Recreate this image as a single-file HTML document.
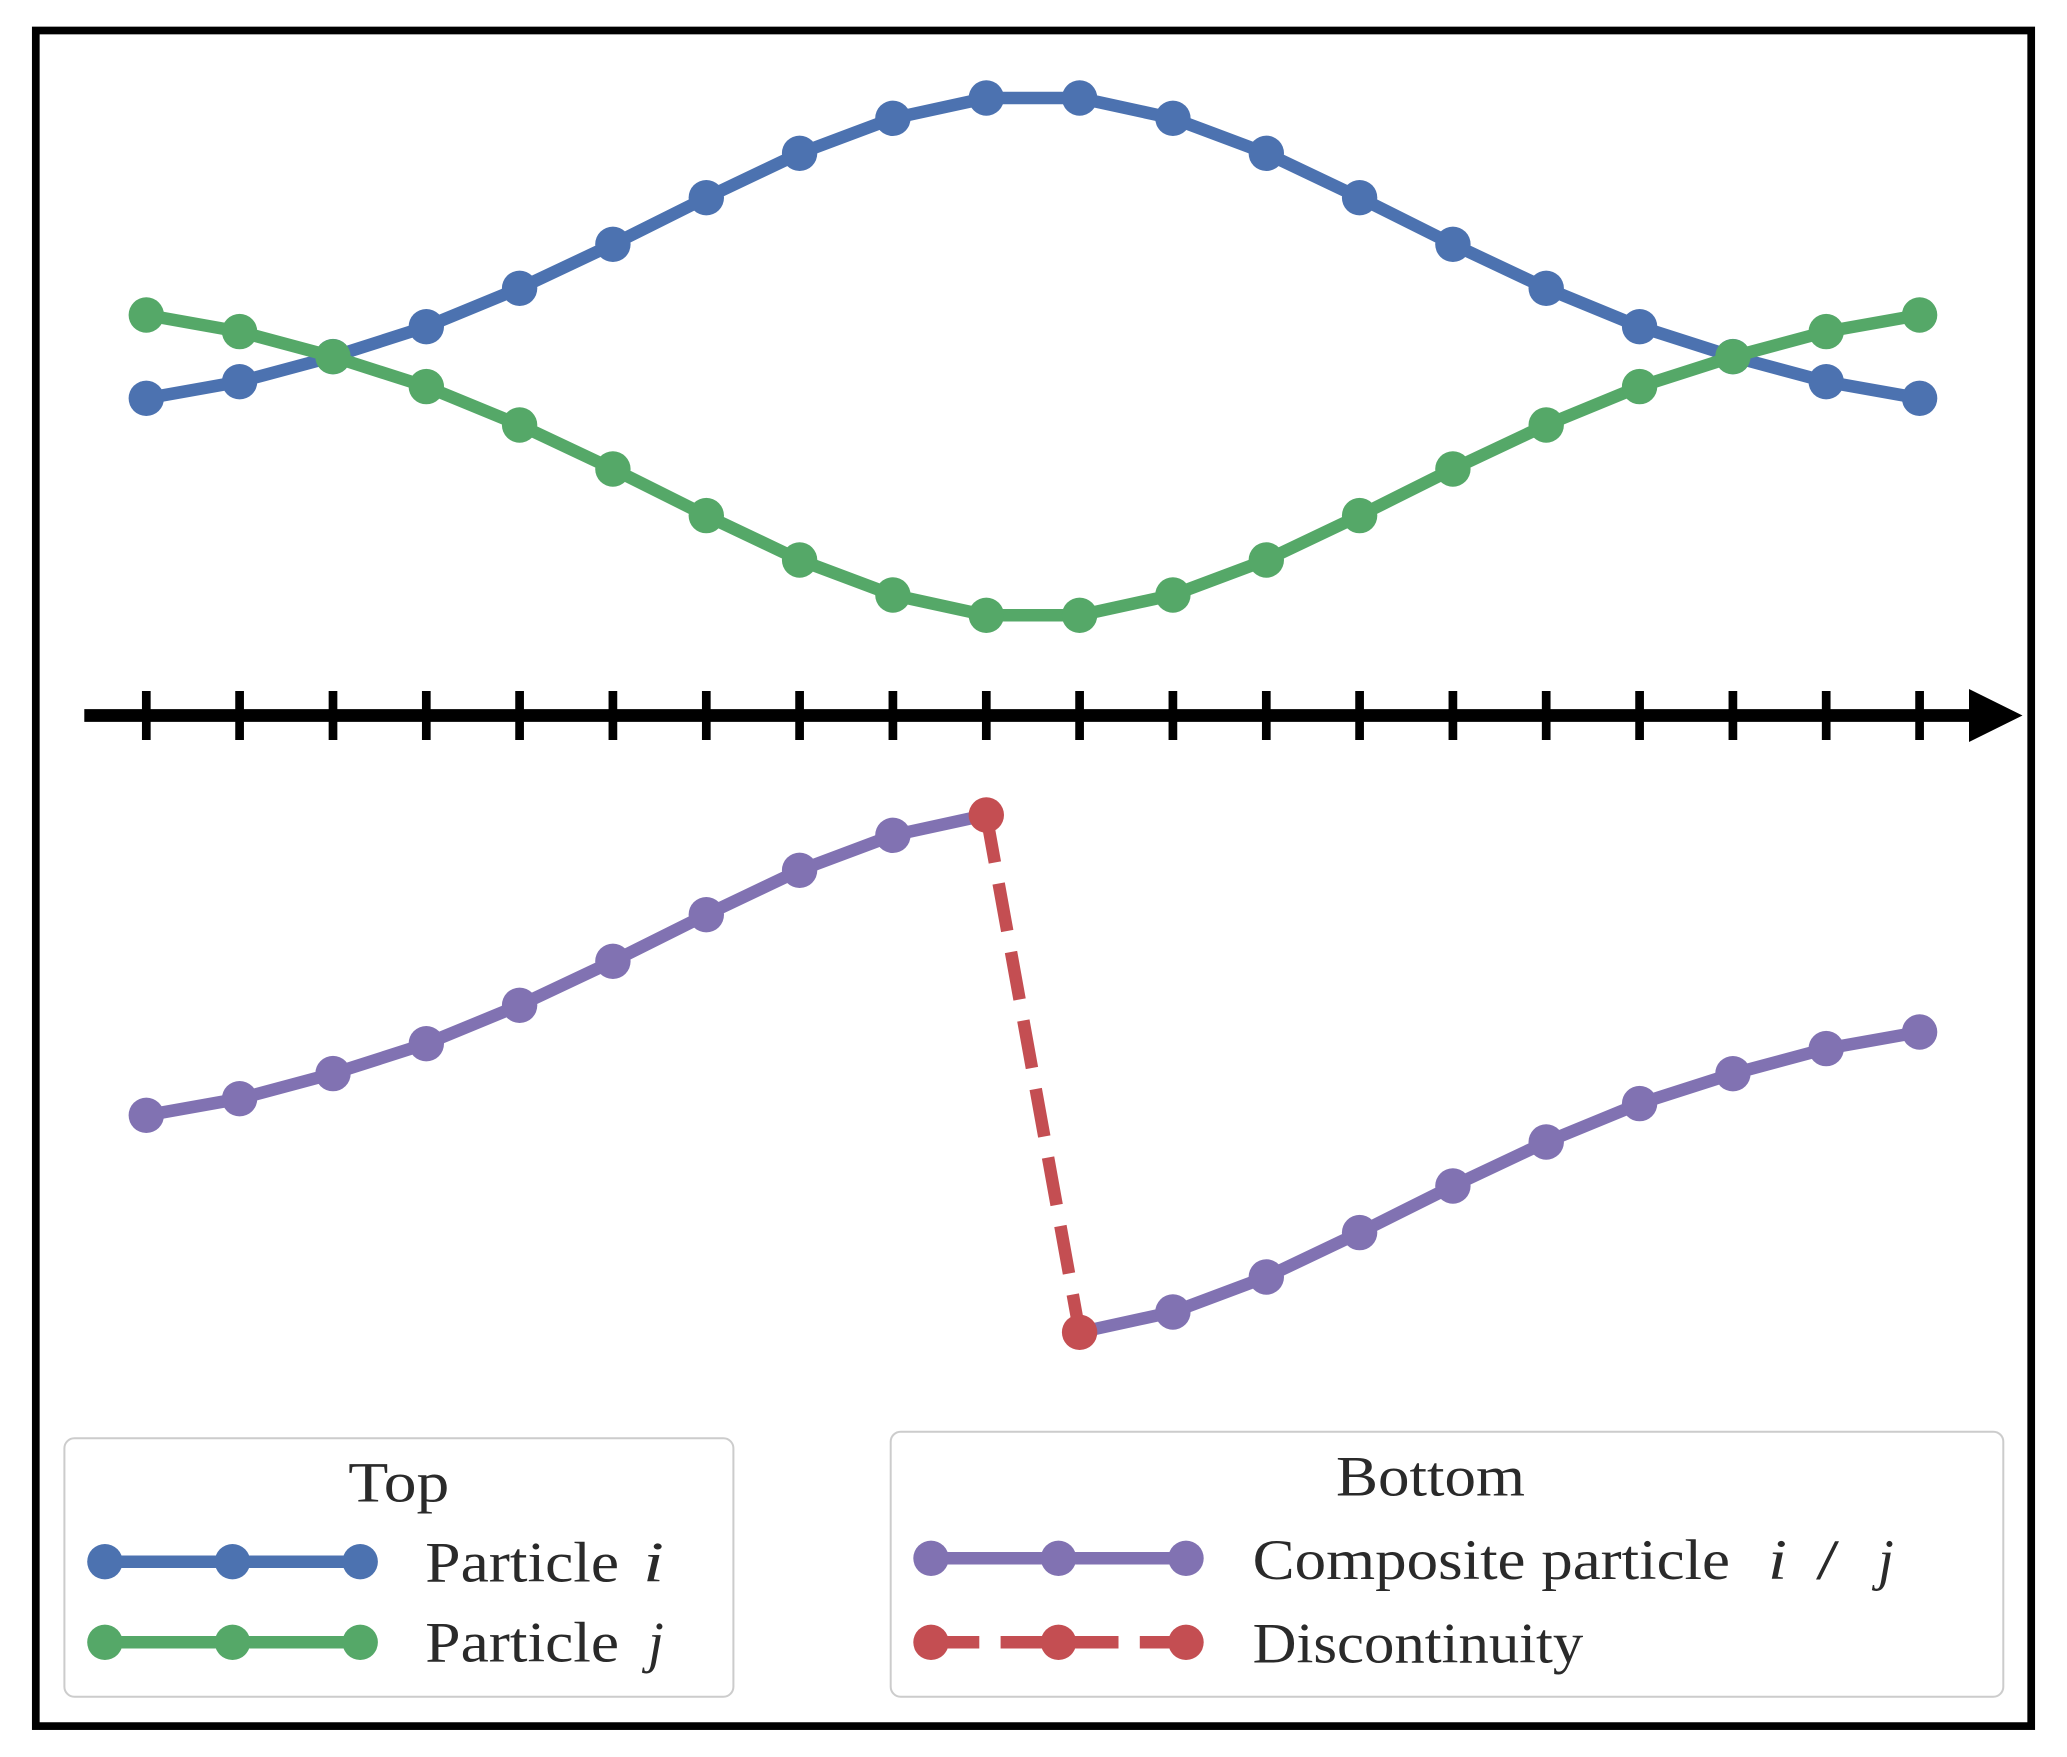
<!DOCTYPE html>
<html>
<head>
<meta charset="utf-8">
<style>
  html, body { margin: 0; padding: 0; background: #ffffff; }
  svg { display: block; }
  text { font-family: "Liberation Serif", serif; fill: #2a2a2a; }
</style>
</head>
<body>
<svg width="2067" height="1757" viewBox="0 0 2067 1757" xmlns="http://www.w3.org/2000/svg">
  <rect x="0" y="0" width="2067" height="1757" fill="#ffffff"/>

  <!-- Outer frame -->
  <rect x="35.8" y="30.5" width="1995.4" height="1695.6" fill="none" stroke="#000" stroke-width="7.7"/>

  <!-- Axis arrow -->
  <line x1="84.3" y1="715.5" x2="1972" y2="715.5" stroke="#000" stroke-width="12.7"/>
  <polygon points="1969,689 2022.5,715.5 1969,742" fill="#000"/>
  <g stroke="#000" stroke-width="8.7">
    <line x1="146.3" y1="691" x2="146.3" y2="740"/>
    <line x1="239.6" y1="691" x2="239.6" y2="740"/>
    <line x1="333.0" y1="691" x2="333.0" y2="740"/>
    <line x1="426.3" y1="691" x2="426.3" y2="740"/>
    <line x1="519.6" y1="691" x2="519.6" y2="740"/>
    <line x1="612.9" y1="691" x2="612.9" y2="740"/>
    <line x1="706.3" y1="691" x2="706.3" y2="740"/>
    <line x1="799.6" y1="691" x2="799.6" y2="740"/>
    <line x1="892.9" y1="691" x2="892.9" y2="740"/>
    <line x1="986.3" y1="691" x2="986.3" y2="740"/>
    <line x1="1079.6" y1="691" x2="1079.6" y2="740"/>
    <line x1="1172.9" y1="691" x2="1172.9" y2="740"/>
    <line x1="1266.3" y1="691" x2="1266.3" y2="740"/>
    <line x1="1359.6" y1="691" x2="1359.6" y2="740"/>
    <line x1="1452.9" y1="691" x2="1452.9" y2="740"/>
    <line x1="1546.2" y1="691" x2="1546.2" y2="740"/>
    <line x1="1639.6" y1="691" x2="1639.6" y2="740"/>
    <line x1="1732.9" y1="691" x2="1732.9" y2="740"/>
    <line x1="1826.2" y1="691" x2="1826.2" y2="740"/>
    <line x1="1919.6" y1="691" x2="1919.6" y2="740"/>
  </g>

  <!-- Blue series (Particle i) -->
  <g id="blue">
    <polyline fill="none" stroke="#4C72B0" stroke-width="12.5" stroke-linejoin="round"
      points="146.3,398.3 239.6,381.7 333.0,356.6 426.3,326.7 519.6,288.3 612.9,244.3 706.3,197.7 799.6,153.3 892.9,118.3 986.3,98.0 1079.6,98.0 1172.9,118.3 1266.3,153.3 1359.6,197.7 1452.9,244.3 1546.2,288.3 1639.6,326.7 1732.9,356.6 1826.2,381.7 1919.6,398.3"/>
    <g fill="#4C72B0">
      <circle cx="146.3" cy="398.3" r="17.7"/>
      <circle cx="239.6" cy="381.7" r="17.7"/>
      <circle cx="333.0" cy="356.6" r="17.7"/>
      <circle cx="426.3" cy="326.7" r="17.7"/>
      <circle cx="519.6" cy="288.3" r="17.7"/>
      <circle cx="612.9" cy="244.3" r="17.7"/>
      <circle cx="706.3" cy="197.7" r="17.7"/>
      <circle cx="799.6" cy="153.3" r="17.7"/>
      <circle cx="892.9" cy="118.3" r="17.7"/>
      <circle cx="986.3" cy="98.0" r="17.7"/>
      <circle cx="1079.6" cy="98.0" r="17.7"/>
      <circle cx="1172.9" cy="118.3" r="17.7"/>
      <circle cx="1266.3" cy="153.3" r="17.7"/>
      <circle cx="1359.6" cy="197.7" r="17.7"/>
      <circle cx="1452.9" cy="244.3" r="17.7"/>
      <circle cx="1546.2" cy="288.3" r="17.7"/>
      <circle cx="1639.6" cy="326.7" r="17.7"/>
      <circle cx="1732.9" cy="356.6" r="17.7"/>
      <circle cx="1826.2" cy="381.7" r="17.7"/>
      <circle cx="1919.6" cy="398.3" r="17.7"/>
    </g>
  </g>

  <!-- Green series (Particle j) -->
  <g id="green">
    <polyline fill="none" stroke="#55A868" stroke-width="12.5" stroke-linejoin="round"
      points="146.3,315.0 239.6,331.6 333.0,356.7 426.3,386.6 519.6,425.0 612.9,469.0 706.3,515.6 799.6,560.0 892.9,595.0 986.3,615.3 1079.6,615.3 1172.9,595.0 1266.3,560.0 1359.6,515.6 1452.9,469.0 1546.2,425.0 1639.6,386.6 1732.9,356.7 1826.2,331.6 1919.6,315.0"/>
    <g fill="#55A868">
      <circle cx="146.3" cy="315.0" r="17.7"/>
      <circle cx="239.6" cy="331.6" r="17.7"/>
      <circle cx="333.0" cy="356.7" r="17.7"/>
      <circle cx="426.3" cy="386.6" r="17.7"/>
      <circle cx="519.6" cy="425.0" r="17.7"/>
      <circle cx="612.9" cy="469.0" r="17.7"/>
      <circle cx="706.3" cy="515.6" r="17.7"/>
      <circle cx="799.6" cy="560.0" r="17.7"/>
      <circle cx="892.9" cy="595.0" r="17.7"/>
      <circle cx="986.3" cy="615.3" r="17.7"/>
      <circle cx="1079.6" cy="615.3" r="17.7"/>
      <circle cx="1172.9" cy="595.0" r="17.7"/>
      <circle cx="1266.3" cy="560.0" r="17.7"/>
      <circle cx="1359.6" cy="515.6" r="17.7"/>
      <circle cx="1452.9" cy="469.0" r="17.7"/>
      <circle cx="1546.2" cy="425.0" r="17.7"/>
      <circle cx="1639.6" cy="386.6" r="17.7"/>
      <circle cx="1732.9" cy="356.7" r="17.7"/>
      <circle cx="1826.2" cy="331.6" r="17.7"/>
      <circle cx="1919.6" cy="315.0" r="17.7"/>
    </g>
  </g>

  <!-- Purple composite -->
  <g id="purple">
    <polyline fill="none" stroke="#8172B2" stroke-width="12.5" stroke-linejoin="round"
      points="146.3,1115.3 239.6,1098.7 333.0,1073.6 426.3,1043.7 519.6,1005.3 612.9,961.3 706.3,914.7 799.6,870.3 892.9,835.3 986.3,815.0"/>
    <polyline fill="none" stroke="#8172B2" stroke-width="12.5" stroke-linejoin="round"
      points="1079.6,1332.3 1172.9,1312.0 1266.3,1277.0 1359.6,1232.6 1452.9,1186.0 1546.2,1142.0 1639.6,1103.6 1732.9,1073.7 1826.2,1048.6 1919.6,1032.0"/>
    <g fill="#8172B2">
      <circle cx="146.3" cy="1115.3" r="17.7"/>
      <circle cx="239.6" cy="1098.7" r="17.7"/>
      <circle cx="333.0" cy="1073.6" r="17.7"/>
      <circle cx="426.3" cy="1043.7" r="17.7"/>
      <circle cx="519.6" cy="1005.3" r="17.7"/>
      <circle cx="612.9" cy="961.3" r="17.7"/>
      <circle cx="706.3" cy="914.7" r="17.7"/>
      <circle cx="799.6" cy="870.3" r="17.7"/>
      <circle cx="892.9" cy="835.3" r="17.7"/>
      <circle cx="1172.9" cy="1312.0" r="17.7"/>
      <circle cx="1266.3" cy="1277.0" r="17.7"/>
      <circle cx="1359.6" cy="1232.6" r="17.7"/>
      <circle cx="1452.9" cy="1186.0" r="17.7"/>
      <circle cx="1546.2" cy="1142.0" r="17.7"/>
      <circle cx="1639.6" cy="1103.6" r="17.7"/>
      <circle cx="1732.9" cy="1073.7" r="17.7"/>
      <circle cx="1826.2" cy="1048.6" r="17.7"/>
      <circle cx="1919.6" cy="1032.0" r="17.7"/>
    </g>
  </g>

  <!-- Red discontinuity -->
  <g id="red">
    <line x1="986.3" y1="815.0" x2="1079.6" y2="1332.3" stroke="#C44E52" stroke-width="12.5" stroke-dasharray="48.3 21.3"/>
    <circle cx="986.3" cy="815.0" r="17.7" fill="#C44E52"/>
    <circle cx="1079.6" cy="1332.3" r="17.7" fill="#C44E52"/>
  </g>

  <!-- Left legend -->
  <rect x="64.4" y="1438.3" width="669" height="258.4" rx="10" ry="10" fill="#ffffff" stroke="#cccccc" stroke-width="2"/>
  <text x="348.3" y="1501.7" font-size="57" textLength="101" lengthAdjust="spacingAndGlyphs">Top</text>

  <line x1="104.9" y1="1561.7" x2="360.2" y2="1561.7" stroke="#4C72B0" stroke-width="12.5"/>
  <circle cx="104.9" cy="1561.7" r="17.7" fill="#4C72B0"/>
  <circle cx="232.5" cy="1561.7" r="17.7" fill="#4C72B0"/>
  <circle cx="360.2" cy="1561.7" r="17.7" fill="#4C72B0"/>
  <text x="425.3" y="1581.7" font-size="57" textLength="193.7" lengthAdjust="spacingAndGlyphs">Particle</text>
  <text x="643" y="1581.7" font-size="57" font-style="italic" textLength="21" lengthAdjust="spacingAndGlyphs">i</text>

  <line x1="104.9" y1="1642.3" x2="360.2" y2="1642.3" stroke="#55A868" stroke-width="12.5"/>
  <circle cx="104.9" cy="1642.3" r="17.7" fill="#55A868"/>
  <circle cx="232.5" cy="1642.3" r="17.7" fill="#55A868"/>
  <circle cx="360.2" cy="1642.3" r="17.7" fill="#55A868"/>
  <text x="425.3" y="1661.7" font-size="57" textLength="193.7" lengthAdjust="spacingAndGlyphs">Particle</text>
  <text x="648" y="1661.7" font-size="57" font-style="italic">j</text>

  <!-- Right legend -->
  <rect x="890.7" y="1431.7" width="1112.6" height="265" rx="10" ry="10" fill="#ffffff" stroke="#cccccc" stroke-width="2"/>
  <text x="1336" y="1495.7" font-size="57" textLength="189" lengthAdjust="spacingAndGlyphs">Bottom</text>

  <line x1="931" y1="1558.3" x2="1186" y2="1558.3" stroke="#8172B2" stroke-width="12.5"/>
  <circle cx="931" cy="1558.3" r="17.7" fill="#8172B2"/>
  <circle cx="1058.5" cy="1558.3" r="17.7" fill="#8172B2"/>
  <circle cx="1186" cy="1558.3" r="17.7" fill="#8172B2"/>
  <text x="1252.7" y="1579" font-size="57" textLength="477.3" lengthAdjust="spacingAndGlyphs">Composite particle</text>
  <text x="1768" y="1579" font-size="57" font-style="italic" textLength="19" lengthAdjust="spacingAndGlyphs">i</text>
  <text x="1816" y="1579" font-size="57" textLength="23" lengthAdjust="spacingAndGlyphs">/</text>
  <text x="1878" y="1579" font-size="57" font-style="italic">j</text>

  <line x1="931" y1="1642.3" x2="1186" y2="1642.3" stroke="#C44E52" stroke-width="12.5" stroke-dasharray="48.3 21.3"/>
  <circle cx="931" cy="1642.3" r="17.7" fill="#C44E52"/>
  <circle cx="1058.5" cy="1642.3" r="17.7" fill="#C44E52"/>
  <circle cx="1186" cy="1642.3" r="17.7" fill="#C44E52"/>
  <text x="1252.7" y="1662.3" font-size="57" textLength="330.6" lengthAdjust="spacingAndGlyphs">Discontinuity</text>
</svg>
</body>
</html>
